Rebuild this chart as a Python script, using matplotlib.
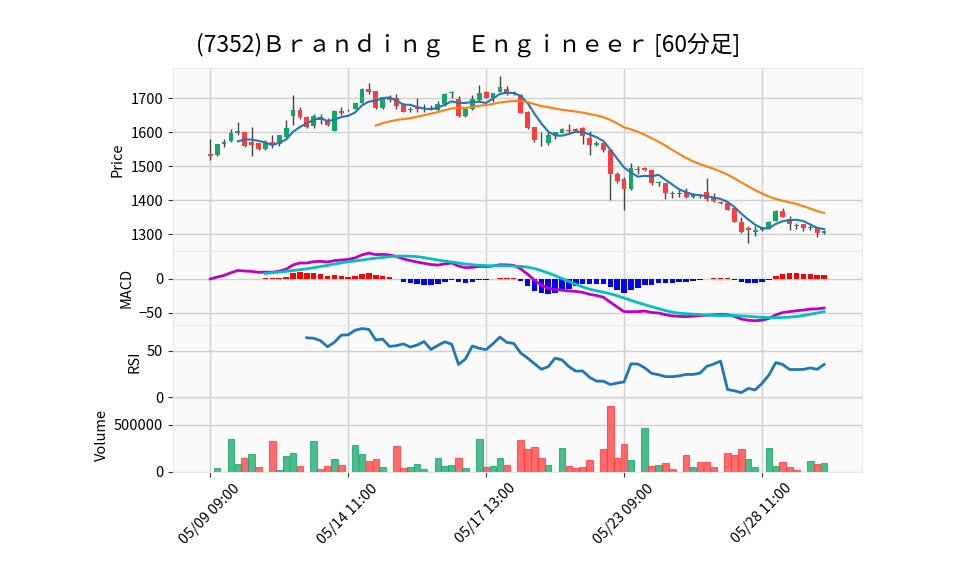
import numpy as np
import pandas as pd
import matplotlib
matplotlib.use("Agg")
import matplotlib.pyplot as plt

plt.rcParams['font.family'] = ['Noto Sans CJK JP', 'DejaVu Sans']

#%% data (60-minute bars)
title = "(7352)Ｂｒａｎｄｉｎｇ　Ｅｎｇｉｎｅｅｒ [60分足]"

opens = [1537, 1533, 1567, 1575, 1597, 1600, 1571, 1569, 1550, 1573,
         1565, 1587, 1648, 1666, 1646, 1619, 1646, 1636, 1605, 1663,
         1667, 1669, 1686, 1727, 1721, 1672, 1705, 1700, 1680, 1666,
         1674, 1669, 1672, 1666, 1683, 1715, 1698, 1649, 1669, 1695,
         1720, 1701, 1720, 1729, 1720, 1710, 1661, 1616, 1571, 1569,
         1592, 1599, 1607, 1610, 1612, 1585, 1563, 1569, 1548, 1477,
         1463, 1433, 1492, 1495, 1489, 1450, 1451, 1423, 1421, 1426,
         1411, 1416, 1424, 1409, 1396, 1391, 1377, 1337, 1318, 1306,
         1313, 1318, 1340, 1370, 1345, 1328, 1330, 1323, 1319, 1303]
highs = [1582, 1567, 1580, 1610, 1630, 1601, 1615, 1570, 1579, 1591,
         1592, 1636, 1709, 1675, 1648, 1654, 1654, 1643, 1665, 1676,
         1670, 1688, 1732, 1744, 1722, 1704, 1710, 1713, 1688, 1676,
         1700, 1685, 1680, 1691, 1716, 1721, 1708, 1670, 1710, 1739,
         1721, 1717, 1765, 1737, 1722, 1712, 1662, 1617, 1600, 1600,
         1601, 1612, 1625, 1612, 1616, 1605, 1576, 1570, 1550, 1482,
         1468, 1510, 1500, 1497, 1490, 1458, 1452, 1427, 1430, 1435,
         1422, 1420, 1466, 1422, 1399, 1392, 1378, 1350, 1324, 1326,
         1323, 1340, 1372, 1378, 1355, 1333, 1331, 1327, 1319, 1312]
lows = [1519, 1532, 1556, 1571, 1593, 1557, 1531, 1548, 1548, 1554,
        1561, 1585, 1622, 1639, 1612, 1613, 1625, 1619, 1604, 1652,
        1663, 1668, 1686, 1713, 1670, 1669, 1690, 1668, 1660, 1660,
        1659, 1659, 1665, 1659, 1678, 1700, 1644, 1646, 1666, 1693,
        1700, 1690, 1718, 1710, 1710, 1656, 1610, 1573, 1559, 1564,
        1580, 1597, 1595, 1600, 1566, 1534, 1559, 1543, 1400, 1450,
        1372, 1431, 1477, 1485, 1446, 1443, 1404, 1406, 1410, 1406,
        1407, 1408, 1399, 1394, 1389, 1372, 1335, 1304, 1274, 1296,
        1311, 1316, 1338, 1350, 1313, 1315, 1311, 1313, 1291, 1302]
closes = [1532, 1566, 1571, 1597, 1603, 1559, 1564, 1552, 1572, 1567,
          1591, 1613, 1666, 1644, 1617, 1647, 1637, 1622, 1663, 1657,
          1665, 1686, 1727, 1718, 1672, 1703, 1695, 1678, 1661, 1669,
          1670, 1673, 1669, 1683, 1713, 1719, 1649, 1669, 1698, 1716,
          1701, 1716, 1735, 1716, 1712, 1658, 1613, 1577, 1572, 1592,
          1600, 1610, 1604, 1603, 1590, 1563, 1569, 1548, 1478, 1456,
          1433, 1494, 1488, 1490, 1450, 1454, 1421, 1418, 1418, 1411,
          1417, 1412, 1404, 1397, 1391, 1373, 1337, 1306, 1312, 1313,
          1321, 1337, 1370, 1352, 1330, 1325, 1318, 1320, 1303, 1311]
volumes = [0, 38700, 0, 345000, 81000, 144000, 187000, 49000, 0, 324000,
           14000, 165000, 197000, 60000, 0, 324000, 28000, 60000, 134000, 70000,
           0, 282000, 187000, 113000, 134000, 49000, 0, 271000, 39000, 49000,
           81000, 28000, 0, 144000, 60000, 70000, 144000, 39000, 0, 345000,
           49000, 60000, 144000, 70000, 0, 334500, 239400, 260600, 144400, 70400,
           0, 250000, 59900, 38700, 49300, 123200, 0, 239400, 704200, 144400,
           292200, 123200, 0, 461300, 59900, 70400, 91500, 28200, 0, 176000,
           49300, 102100, 102100, 49300, 0, 197200, 176000, 239400, 133800, 49300,
           0, 250000, 59900, 102100, 49300, 17600, 0, 112700, 81000, 91500]

tick_pos = [0, 20, 40, 60, 80]
tick_labels = ['05/09 09:00', '05/14 11:00', '05/17 13:00', '05/23 09:00', '05/28 11:00']

#%% indicators
df = pd.DataFrame({'open': opens, 'high': highs, 'low': lows, 'close': closes, 'volume': volumes})
df['ma5'] = df['close'].rolling(5).mean()
df['ma25'] = df['close'].rolling(25).mean()
ema12 = df['close'].ewm(span=12, adjust=False).mean()
ema26 = df['close'].ewm(span=26, adjust=False).mean()
df['macd'] = ema12 - ema26
df['signal'] = df['macd'].rolling(9).mean()
df['hist'] = df['macd'] - df['signal']
delta = df['close'].diff()
gain = delta.clip(lower=0).rolling(14).mean()
loss = (-delta.clip(upper=0)).rolling(14).mean()
df['rsi'] = 100 * gain / (gain + loss)

x = np.arange(len(df))
up_col = '#11a866'
dn_col = '#ff3b3b'

#%% plot
fig, axes = plt.subplots(4, 1, sharex=True, figsize=(9.58, 5.75), dpi=100,
                         gridspec_kw={'height_ratios': [5, 2, 2, 2]})
fig.subplots_adjust(left=0.1806, right=0.8998, top=0.882, bottom=0.18, hspace=0)
ax_p, ax_m, ax_r, ax_v = axes

for ax in axes:
    ax.set_facecolor('#fafafa')
    ax.grid(True, color='#d0d0d0', linewidth=1)
    ax.set_axisbelow(True)
    for s in ax.spines.values():
        s.set_color('#e8e8e8')
    ax.tick_params(labelsize=10.5, color='#333333')

# candles
up = df['close'] >= df['open']
ccol = np.where(up, up_col, dn_col)
ax_p.vlines(x, df['low'], df['high'], color='#444444', linewidth=1, zorder=2)
body = (df['close'] - df['open']).abs().clip(lower=1.5)
ax_p.bar(x, body, bottom=df[['open', 'close']].min(axis=1), width=0.7,
         color=ccol, zorder=3)
ax_p.plot(x, df['ma5'], color='#1f77b4', linewidth=1.5, zorder=4)
ax_p.plot(x, df['ma25'], color='#ff7f0e', linewidth=1.5, zorder=4)
ax_p.set_ylim(1250, 1790)
ax_p.set_yticks([1300, 1400, 1500, 1600, 1700])
ax_p.set_ylabel('Price', fontsize=10.5)

# macd
hcol = np.where(df['hist'] >= 0, 'red', 'blue')
ax_m.bar(x, df['hist'], width=0.8, color=hcol, zorder=2)
ax_m.plot(x, df['macd'], color='#c000c0', linewidth=2, zorder=3)
ax_m.plot(x, df['signal'], color='#00c0c0', linewidth=2, zorder=3)
ax_m.set_ylim(-68, 41)
ax_m.set_yticks([-50, 0])
ax_m.set_ylabel('MACD', fontsize=10.5)

# rsi
ax_r.plot(x, df['rsi'], color='#1f77b4', linewidth=2)
ax_r.set_ylim(-1, 78)
ax_r.set_yticks([0, 50])
ax_r.set_ylabel('RSI', fontsize=10.5)

# volume, coloured against previous close
vup = df['close'].diff().fillna(0) >= 0
vcol = np.where(vup, up_col, dn_col)
vmask = df['volume'] > 0
ax_v.bar(x[vmask], df['volume'][vmask], width=0.95, color=vcol[vmask], alpha=0.75,
         edgecolor=vcol[vmask], linewidth=0.8, zorder=2)
ax_v.set_ylim(0, 785000)
ax_v.set_yticks([0, 500000])
ax_v.set_ylabel('Volume', fontsize=10.5)

ax_v.set_xlim(-5.4, 94.5)
ax_v.set_xticks(tick_pos)
ax_v.set_xticklabels(tick_labels, rotation=45)

fig.text(0.489, 0.922, title, ha='center', va='center', fontsize=16.4)

fig.savefig('out.png', dpi=100)
